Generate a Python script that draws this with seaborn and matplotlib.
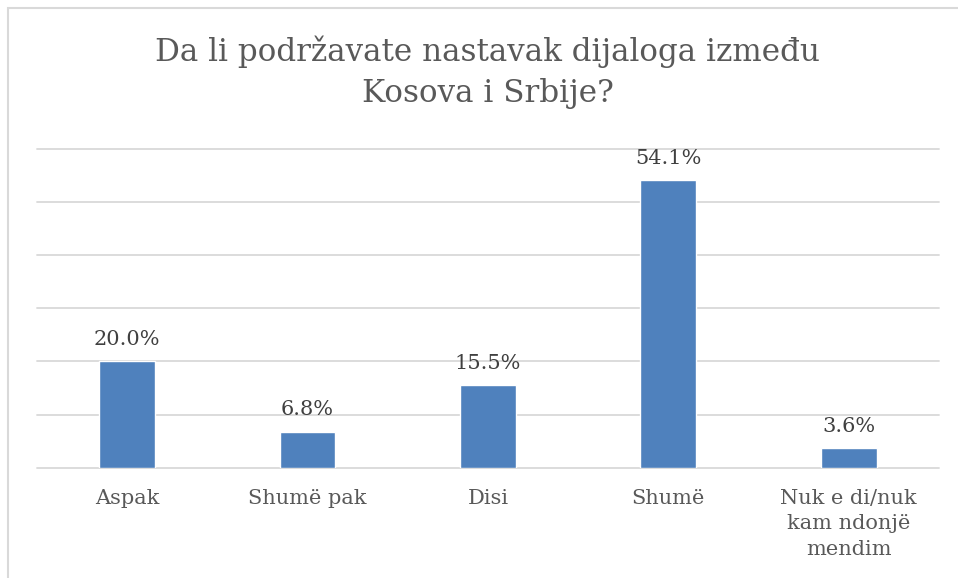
import matplotlib
matplotlib.use("Agg")
import matplotlib.pyplot as plt
import seaborn as sns
import pandas as pd
from matplotlib.patches import Rectangle

categories = ["Aspak", "Shumë pak", "Disi", "Shumë", "Nuk e di/nuk\nkam ndonjë\nmendim"]
values = [20.0, 6.8, 15.5, 54.1, 3.6]
labels = ["20.0%", "6.8%", "15.5%", "54.1%", "3.6%"]
title = "Da li podržavate nastavak dijaloga između\nKosova i Srbije?"

df = pd.DataFrame({"cat": categories, "val": values})

sns.set_style("white")
plt.rcParams["font.family"] = ["DejaVu Serif", "Liberation Serif"]

fig = plt.figure(figsize=(9.58, 5.78), dpi=100)
ax = fig.add_axes([0.0386, 0.191, 0.9414, 0.551])

sns.barplot(data=df, x="cat", y="val", color="#4F81BD", saturation=1, width=0.31, ax=ax)

ax.set_ylim(0, 60)
ax.set_yticks(range(0, 61, 10))
ax.yaxis.grid(True, color="#D9D9D9", linewidth=1.3)
for g in ax.get_ygridlines():
    g.set_clip_on(False)
ax.set_axisbelow(True)
ax.tick_params(axis="y", left=False, labelleft=False)
ax.tick_params(axis="x", bottom=False, labelsize=15, colors="#595959", pad=12)
for t in ax.get_xticklabels():
    t.set_verticalalignment("top")
    t.set_linespacing(1.42)
for s in ax.spines.values():
    s.set_visible(False)
ax.set_xlabel("")
ax.set_ylabel("")

for i, (v, lab) in enumerate(zip(values, labels)):
    ax.annotate(lab, (i, v), xytext=(0, 9), textcoords="offset points",
                ha="center", va="bottom", fontsize=15, color="#404040")

fig.text(0.509, 0.875, title, ha="center", va="center", fontsize=22.3,
         color="#595959", linespacing=1.42)

# chart area border
fig.patches.append(Rectangle((8 / 958, -0.1), 1.2, 1 - 8 / 578 + 0.1,
                             transform=fig.transFigure, fill=False,
                             edgecolor="#D9D9D9", linewidth=1.5))

fig.savefig("out.png", dpi=100)
